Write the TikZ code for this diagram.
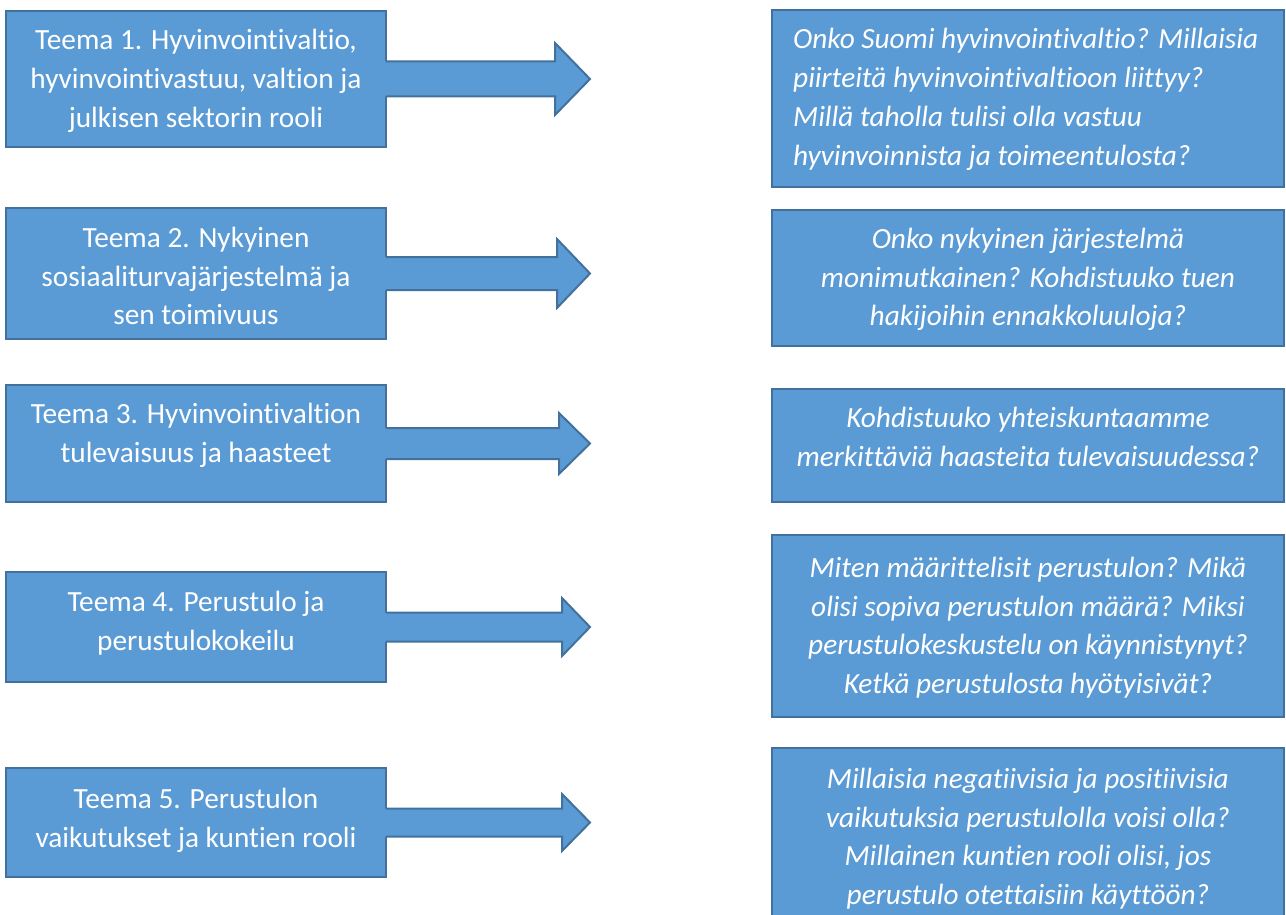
\documentclass[tikz,border=0pt]{standalone}
\usepackage{fontspec}
\setmainfont[Ligatures={NoCommon}]{Carlito}
\usetikzlibrary{calc}
\definecolor{boxfill}{HTML}{5B9BD5}
\definecolor{boxline}{HTML}{41719C}
\begin{document}
\begin{tikzpicture}[x=1pt,y=-1pt,
  panel/.style={rectangle, draw=boxline, fill=boxfill, line width=2pt, inner sep=0pt, outer sep=0pt, anchor=north west},
  lefttext/.style={text=white, font=\fontsize{29.3}{38.8}\selectfont, align=center, anchor=north, inner sep=0pt},
  righttext/.style={lefttext, font=\fontsize{29.3}{38.8}\selectfont\itshape},
  arrowfill/.style={fill=boxfill},
  arrowline/.style={draw=boxline, line width=2pt, line join=miter}]
\useasboundingbox (0,0) rectangle (1286,915);
\clip (0,0) rectangle (1286,915);

% left boxes
\node[panel, minimum width=380pt, minimum height=136pt] (L1) at (6,11) {};
\node[panel, minimum width=380pt, minimum height=131pt] (L2) at (6,208) {};
\node[panel, minimum width=380pt, minimum height=117pt] (L3) at (6,385) {};
\node[panel, minimum width=380pt, minimum height=110pt] (L4) at (6,572) {};
\node[panel, minimum width=380pt, minimum height=109pt] (L5) at (6,768) {};

% right boxes
\node[panel, minimum width=512pt, minimum height=177pt] (R1) at (772,10) {};
\node[panel, minimum width=512pt, minimum height=136pt] (R2) at (772,210) {};
\node[panel, minimum width=512pt, minimum height=113pt] (R3) at (772,389) {};
\node[panel, minimum width=512pt, minimum height=182pt] (R4) at (772,535) {};
\node[panel, minimum width=512pt, minimum height=190pt] (R5) at (772,748) {};

% arrows
\foreach \i/\sh/\hh/\hb in {1/17.5/36/555, 2/16.5/34.5/557, 3/15.5/30.5/559, 4/14.5/29/562, 5/14/28.5/562} {
  \fill[arrowfill] (L\i.east) ++(-3,-\sh) -- ++({\hb-383},0) -- ++(0,{\sh-\hh})
    -- ++({590-\hb},\hh) -- ++({\hb-590},\hh) -- ++(0,{\sh-\hh}) -- ++({383-\hb},0) -- cycle;
  \draw[arrowline] (L\i.east) ++(0,-\sh) -- ++({\hb-386},0) -- ++(0,{\sh-\hh})
    -- ++({590-\hb},\hh) -- ++({\hb-590},\hh) -- ++(0,{\sh-\hh}) -- ++({386-\hb},0);
}

% left texts
\node[lefttext] (L1t) at ([yshift=-11.5pt]L1.north) {\strut Teema 1. Hyvinvointivaltio,\\ hyvinvointivastuu, valtion ja\\ julkisen sektorin rooli};
\node[lefttext] (L2t) at ([yshift=-12pt]L2.north) {\strut Teema 2. Nykyinen\\ sosiaaliturvajärjestelmä ja\\ sen toimivuus};
\node[lefttext] (L3t) at ([yshift=-11pt]L3.north) {\strut Teema 3. Hyvinvointivaltion\\ tulevaisuus ja haasteet};
\node[lefttext] (L4t) at ([yshift=-12.5pt]L4.north) {\strut Teema 4. Perustulo ja\\ perustulokokeilu};
\node[lefttext] (L5t) at ([yshift=-13.5pt]L5.north) {\strut Teema 5. Perustulon\\ vaikutukset ja kuntien rooli};

% right texts
\node[righttext, align=left, anchor=north west] (R1t) at ([xshift=21pt,yshift=-11.5pt]R1.north west) {\strut Onko Suomi hyvinvointivaltio? Millaisia\\ piirteitä hyvinvointivaltioon liittyy?\\ Millä taholla tulisi olla vastuu\\ hyvinvoinnista ja toimeentulosta?};
\node[righttext] (R2t) at ([yshift=-11pt]R2.north) {\strut Onko nykyinen järjestelmä\\ monimutkainen? Kohdistuuko tuen\\ hakijoihin ennakkoluuloja?};
\node[righttext] (R3t) at ([yshift=-11pt]R3.north) {\strut Kohdistuuko yhteiskuntaamme\\ merkittäviä haasteita tulevaisuudessa?};
\node[righttext] (R4t) at ([yshift=-15pt]R4.north) {\strut Miten määrittelisit perustulon? Mikä\\ olisi sopiva perustulon määrä? Miksi\\ perustulokeskustelu on käynnistynyt?\\ Ketkä perustulosta hyötyisivät?};
\node[righttext] (R5t) at ([yshift=-13pt]R5.north) {\strut Millaisia negatiivisia ja positiivisia\\ vaikutuksia perustulolla voisi olla?\\ Millainen kuntien rooli olisi, jos\\ perustulo otettaisiin käyttöön?};
\end{tikzpicture}
\end{document}
